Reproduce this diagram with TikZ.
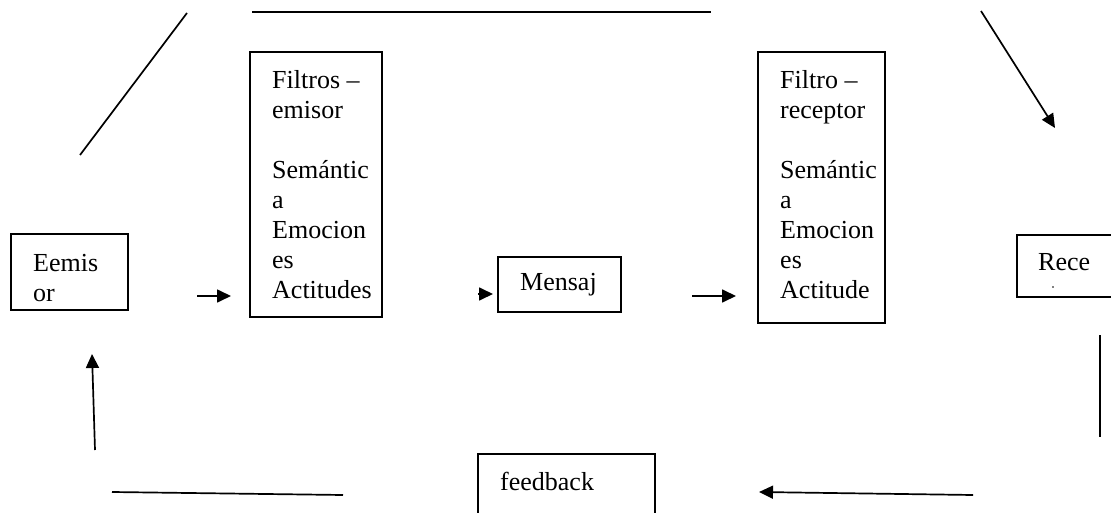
\documentclass[tikz,border=0pt]{standalone}
\usepackage{fontspec}
\setmainfont{Liberation Serif}
\usetikzlibrary{arrows.meta}
\tikzset{
  box/.style={draw, line width=1.8pt},
  txt/.style={anchor=north west, align=left, inner sep=0pt,
    font=\fontsize{26}{30}\selectfont},
  word/.style={anchor=base west, inner sep=0pt,
    font=\fontsize{26}{30}\selectfont},
  link/.style={line width=1.7pt},
  arrowlink/.style={line width=1.7pt, -{Triangle[length=14pt,width=13pt]}},
}
\begin{document}
\begin{tikzpicture}[x=1pt,y=-1pt]
\useasboundingbox (0,0) rectangle (1111,513);
\begin{scope}
\clip (0,0) rectangle (1111,513);
% boxes
\draw[box] (11,234) rectangle (128,310);
\draw[box] (250,52) rectangle (382,317);
\draw[box] (498,257) rectangle (621,312);
\draw[box] (758,52) rectangle (885,323);
\draw[box] (1017,235) rectangle (1125,297);
\draw[box] (478,454) rectangle (655,530);
\end{scope}
% texts
\node[txt] (temisor) at (33,254) {Eemis\\or};
\node[txt] (tfiltroE) at (272,70) {Filtros –\\emisor\\\mbox{}\\Semántic\\a\\Emocion\\es\\Actitudes};
\node[word] (tmensaje) at (520,290) {Mensaj};
\node[txt] (tfiltroR) at (780,70) {Filtro –\\receptor\\\mbox{}\\Semántic\\a\\Emocion\\es\\Actitude};
\node[word] (treceptor) at (1038,270) {Rece};
\node[word] (tfeedback) at (500,490) {feedback};
\fill (1053,287) circle (0.8pt);
% free-standing connectors
\coordinate (a1) at (80,155);   \coordinate (a2) at (187,13);
\coordinate (b1) at (252,12);   \coordinate (b2) at (711,12);
\coordinate (c1) at (981,11);   \coordinate (c2) at (1055,128);
\coordinate (d1) at (197,296);  \coordinate (d2) at (231,296);
\coordinate (e1) at (478,294);  \coordinate (e2) at (493,294);
\coordinate (f1) at (692,296);  \coordinate (f2) at (736,296);
\coordinate (g1) at (1100,335); \coordinate (g2) at (1100,437);
\coordinate (h1) at (973,495);  \coordinate (h2) at (759,492);
\coordinate (i1) at (112,492);  \coordinate (i2) at (343,495);
\coordinate (j1) at (95,450);   \coordinate (j2) at (92,354);
\draw[link] (a1) -- (a2);
\draw[link] (b1) -- (b2);
\draw[arrowlink] (c1) -- (c2);
\draw[arrowlink] (d1) -- (d2);
\draw[arrowlink] (e1) -- (e2);
\draw[arrowlink] (f1) -- (f2);
\draw[link] (g1) -- (g2);
\draw[arrowlink] (h1) -- (h2);
\draw[link] (i1) -- (i2);
\draw[arrowlink] (j1) -- (j2);
\end{tikzpicture}
\end{document}
